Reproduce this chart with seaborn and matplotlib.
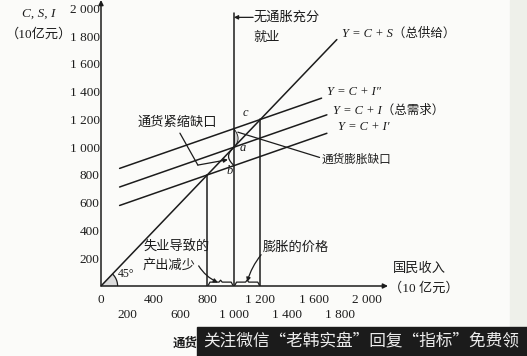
import matplotlib
matplotlib.use('Agg')
import matplotlib.pyplot as plt
import numpy as np
import pandas as pd
import seaborn as sns
from matplotlib.patches import Rectangle

# axis ticks
y_ticks = [200, 400, 600, 800, 1000, 1200, 1400, 1600, 1800, 2000]
y_labels = ['200', '400', '600', '800', '1 000', '1 200', '1 400', '1 600', '1 800', '2 000']
# x labels are staggered on two rows
x_ticks_top = [0, 400, 800, 1200, 1600, 2000]
x_labels_top = ['0', '400', '800', '1 200', '1 600', '2 000']
x_ticks_low = [200, 600, 1000, 1400, 1800]
x_labels_low = ['200', '600', '1 000', '1 400', '1 800']

# 45 degree line, Y = C + S
supply_x = [0, 1775]
supply_y = [0, 1775]

# aggregate demand lines, end points
demand_names = ['Y = C + I″', 'Y = C + I', 'Y = C + I′']
demand_x0 = [140, 140, 140]
demand_y0 = [847, 713, 580]
demand_x1 = [1660, 1700, 1700]
demand_y1 = [1353, 1233, 1100]

# vertical guide lines (800 / full employment 1000 / 1200)
guide_x = [800, 1000, 1200]
guide_top = [800, 1964, 1200]

# gaps at full employment
full_emp = 1000
point_a = 1000
point_b = 867
point_c = 1133

CJK = 'Noto Sans CJK SC'
SERIF = 'Liberation Serif'
INK = '#1c1c1c'

sns.set_style('white')
plt.rcParams['font.family'] = [SERIF, CJK, 'DejaVu Sans']

fig = plt.figure(figsize=(5.27, 3.56), dpi=100, facecolor='#fbfbf9')
fig.patches.append(Rectangle((510 / 527, 0), 17 / 527, 1, transform=fig.transFigure,
                             color='#eef0ea', zorder=0))
ax = fig.add_axes([101 / 527, 70 / 356, 287 / 527, 286 / 356])
ax.set_facecolor('none')

# build one table of line segments and draw them all through seaborn
rows = []
for i in range(2):
    rows.append({'x': supply_x[i], 'y': supply_y[i], 'line': 'supply'})
for n, x0, y0, x1, y1 in zip(demand_names, demand_x0, demand_y0, demand_x1, demand_y1):
    rows.append({'x': x0, 'y': y0, 'line': n})
    rows.append({'x': x1, 'y': y1, 'line': n})
for gx, gt in zip(guide_x, guide_top):
    rows.append({'x': gx, 'y': 0, 'line': 'v%d' % gx})
    rows.append({'x': gx, 'y': gt, 'line': 'v%d' % gx})
df = pd.DataFrame(rows)
sns.lineplot(data=df, x='x', y='y', units='line', estimator=None, sort=False,
             color=INK, lw=1.1, ax=ax, legend=False)

ax.set_xlim(0, 2160)
ax.set_ylim(0, 2060)
for s in ax.spines.values():
    s.set_visible(False)

# axes with arrow heads
arr = dict(arrowstyle='-|>', color=INK, lw=1.1, mutation_scale=7, shrinkA=0, shrinkB=0)
ax.annotate('', xy=(0, 2060), xytext=(0, 0), arrowprops=arr, annotation_clip=False)
ax.annotate('', xy=(2160, 0), xytext=(0, 0), arrowprops=arr, annotation_clip=False)

ax.set_xticks(x_ticks_top)
ax.set_xticklabels(x_labels_top, fontfamily=SERIF, fontsize=9.5, color=INK)
ax.set_xticks(x_ticks_low, minor=True)
ax.set_xticklabels(x_labels_low, minor=True, fontfamily=SERIF, fontsize=9.5, color=INK)
ax.set_yticks(y_ticks)
ax.set_yticklabels(y_labels, fontfamily=SERIF, fontsize=9.5, color=INK)
ax.tick_params(axis='both', which='both', direction='in', length=5, width=1, color=INK)
ax.tick_params(axis='y', pad=1)
ax.tick_params(axis='x', which='major', pad=6)
ax.tick_params(axis='x', which='minor', pad=16.5)
ax.set_xlabel('')
ax.set_ylabel('')

# 45 degree wedge near the origin
th = np.linspace(0, np.pi / 4, 30)
wx = np.concatenate([[0], 125 * np.cos(th), [0]])
wy = np.concatenate([[0], 120 * np.sin(th), [0]])
ax.fill(wx, wy, color='#dcdcdc', lw=0, zorder=1)
ax.plot(125 * np.cos(th), 120 * np.sin(th), color=INK, lw=0.9)
ax.text(128, 84, '45°', fontsize=8.5, family=SERIF, color=INK, va='center')

# small brackets for the two gaps on the full employment line
t = np.linspace(0, 1, 30)
ax.plot(full_emp - 40 * np.sin(np.pi * t), point_b + (point_a - point_b) * t, color=INK, lw=0.9)
ax.fill_betweenx(point_a + (point_c - point_a) * t, full_emp, full_emp + 28 * np.sin(np.pi * t),
                 color='#cfcfcf', lw=0.6, edgecolor=INK)

# braces above the x axis
for lo, hi in [(guide_x[0], guide_x[1]), (guide_x[1], guide_x[2])]:
    mid = (lo + hi) / 2
    bx = [lo + 8, lo + 20, mid - 12, mid, mid + 12, hi - 20, hi - 8]
    by = [6, 28, 28, 42, 28, 28, 6]
    ax.plot(bx, by, color=INK, lw=0.9)

# point labels
for lab, px, py in [('c', 1090, 1245), ('a', 1068, 993), ('b', 970, 827)]:
    ax.text(px, py, lab, fontsize=9, family=SERIF, style='italic', color=INK,
            ha='center', va='center')

# curve labels
ax.text(1815, 1820, 'Y = C + S（总供给）', fontsize=9, style='italic', color=INK, va='center')
ax.text(1700, 1396, demand_names[0], fontsize=9, style='italic', color=INK, va='center')
ax.text(1748, 1266, demand_names[1] + '（总需求）', fontsize=9, style='italic', color=INK, va='center')
ax.text(1780, 1144, demand_names[2], fontsize=9, style='italic', color=INK, va='center')

cjk = dict(family=[CJK], fontsize=9.5, color=INK, va='center')
ax.text(1150, 1935, '无通胀充分', **cjk)
ax.text(1143, 1791, '就业', **cjk)
ax.annotate('', xy=(full_emp, 1935), xytext=(1145, 1935),
            arrowprops=dict(arrowstyle='-|>', color=INK, lw=0.9, mutation_scale=6, shrinkA=0, shrinkB=0))

ax.text(271, 1180, '通货紧缩缺口', **cjk)
ax.plot([594, 729], [1101, 871], color=INK, lw=0.9)
ax.annotate('', xy=(955, 910), xytext=(729, 871),
            arrowprops=dict(arrowstyle='-|>', color=INK, lw=0.9, mutation_scale=6, shrinkA=0, shrinkB=0))

ax.text(1662, 914, '通货膨胀缺口', family=[CJK], fontsize=8.4, color=INK, va='center')
ax.plot([1645, 1030], [926, 1108], color=INK, lw=0.9)

ax.text(316, 282, '失业导致的', **cjk)
ax.text(316, 150, '产出减少', **cjk)
ax.annotate('', xy=(880, 26), xytext=(735, 145),
            arrowprops=dict(arrowstyle='-|>', color=INK, lw=0.9, mutation_scale=6,
                            shrinkA=0, shrinkB=0, connectionstyle='arc3,rad=0.15'))
ax.text(1215, 282, '膨胀的价格', **cjk)
ax.annotate('', xy=(1100, 30), xytext=(1205, 225),
            arrowprops=dict(arrowstyle='-|>', color=INK, lw=0.9, mutation_scale=6,
                            shrinkA=0, shrinkB=0, connectionstyle='arc3,rad=0.1'))

# axis titles
ax.text(-470, 1964, 'C, S, I', fontsize=9.5, family=SERIF, style='italic', color=INK,
        ha='center', va='center', clip_on=False)
ax.text(-470, 1815, '（10亿元）', fontsize=9.5, color=INK, ha='center', va='center', clip_on=False)
ax.text(2195, 130, '国民收入', family=[CJK], fontsize=9.5, color=INK, va='center', clip_on=False)
ax.text(2170, -15, '（10 亿元）', fontsize=9.5, color=INK, va='center', clip_on=False)

# caption stub and watermark bar at the bottom
fig.text(173 / 527, 1 - 343 / 356, '通货', family=[CJK], fontsize=9, fontweight='bold',
         color=INK, va='center')
fig.patches.append(Rectangle((197 / 527, 0), 330 / 527, 29 / 356, transform=fig.transFigure,
                             color='#1b1b1b', zorder=3))
fig.text(203 / 527, 1 - 342 / 356, '关注微信“老韩实盘”回复“指标”免费领', family=[CJK],
         fontsize=12, color='#ececec', va='center', zorder=4)

fig.savefig('out.png', dpi=100, facecolor=fig.get_facecolor())
